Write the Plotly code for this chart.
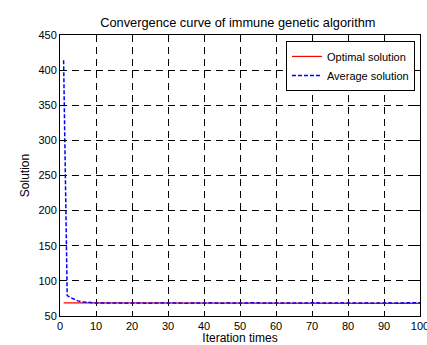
import plotly.graph_objects as go

iterations = list(range(1, 101))
optimal = [68.6, 68.6, 68.5, 68.5, 68.4, 68.3, 68.2, 68.1, 68.0, 68.0,
           67.9, 67.9, 67.9, 67.9, 67.9, 67.9, 67.9, 67.9, 67.9, 67.9,
           67.9, 67.9, 67.9, 67.9, 67.9, 67.9, 67.9, 67.9, 67.9, 67.9,
           67.9, 67.9, 67.9, 67.9, 67.9, 67.9, 67.9, 67.9, 67.9, 67.9,
           67.9, 67.9, 67.9, 67.9, 67.9, 67.9, 67.9, 67.9, 67.9, 67.9,
           67.9, 67.9, 67.9, 67.9, 67.9, 67.9, 67.9, 67.9, 67.9, 67.9,
           67.9, 67.9, 67.9, 67.9, 67.9, 67.9, 67.9, 67.9, 67.9, 67.9,
           67.9, 67.9, 67.9, 67.9, 67.9, 67.9, 67.9, 67.9, 67.9, 67.9,
           67.9, 67.9, 67.9, 67.9, 67.9, 67.9, 67.9, 67.9, 67.9, 67.9,
           67.9, 67.9, 67.9, 67.9, 67.9, 67.9, 67.9, 67.9, 67.9, 67.9]
average = [414.0, 79.0, 76.0, 73.5, 71.5, 70.2, 69.6, 69.1, 68.8, 68.6,
           68.4, 68.6, 68.3, 68.5, 68.2, 68.4, 68.6, 68.3, 68.5, 68.9,
           68.4, 68.3, 68.6, 68.2, 68.5, 68.7, 68.3, 68.4, 68.8, 68.5,
           68.3, 68.6, 68.4, 68.7, 68.3, 68.5, 68.9, 68.4, 68.6, 68.3,
           68.5, 68.8, 68.4, 68.6, 68.3, 68.7, 68.5, 68.4, 68.8, 68.6,
           68.3, 68.5, 68.9, 68.6, 69.0, 68.8, 68.4, 68.6, 68.3, 68.5,
           68.7, 68.4, 68.6, 68.9, 68.5, 68.3, 68.6, 68.8, 68.4, 68.5,
           68.9, 68.6, 68.4, 68.7, 68.5, 68.3, 68.6, 68.8, 68.4, 68.5,
           68.3, 68.6, 68.8, 68.4, 68.5, 68.7, 68.3, 68.6, 68.4, 68.5,
           68.8, 68.4, 68.6, 68.3, 68.5, 68.7, 68.4, 68.6, 69.0, 68.8]

x_ticks = [0, 10, 20, 30, 40, 50, 60, 70, 80, 90, 100]
y_ticks = [50, 100, 150, 200, 250, 300, 350, 400, 450]

fig = go.Figure()
fig.add_trace(go.Scatter(x=iterations, y=optimal, mode="lines", name="Optimal solution",
                         line=dict(color="#ff0000", width=1.2)))
fig.add_trace(go.Scatter(x=iterations, y=average, mode="lines", name="Average solution",
                         line=dict(color="#0000ff", width=1.5, dash="4px,2px")))

font = "Liberation Sans, Arial, sans-serif"
axis_common = dict(showline=True, linecolor="black", linewidth=1, mirror="ticks",
                   ticks="inside", ticklen=5, tickcolor="black", automargin=False,
                   ticklabeloverflow="allow",
                   showgrid=True, gridcolor="black", gridwidth=1, griddash="7px,5px",
                   zeroline=False, tickfont=dict(family=font, size=11, color="black"))

fig.update_layout(
    width=427, height=345,
    margin=dict(l=60, r=7, t=35, b=29, autoexpand=False),
    paper_bgcolor="white", plot_bgcolor="white",
    title=dict(text="Convergence curve of immune genetic algorithm", x=0.557, xanchor="center",
               y=0.936, yanchor="middle", font=dict(family=font, size=12.8, color="black")),
    xaxis=dict(range=[0, 100], tickvals=x_ticks, ticktext=[str(v) for v in x_ticks],
               title=dict(text="Iteration times", font=dict(family=font, size=12, color="black"),
                          standoff=0), **axis_common),
    yaxis=dict(range=[50, 450], tickvals=y_ticks, ticktext=[str(v) for v in y_ticks],
               title=dict(text="Solution", font=dict(family=font, size=12, color="black"),
                          standoff=6), **axis_common),
    legend=dict(x=0.986, y=0.979, xanchor="right", yanchor="top", bgcolor="white",
                bordercolor="black", borderwidth=1,
                font=dict(family=font, size=11, color="black"),
                tracegroupgap=0, itemwidth=30),
    showlegend=True,
)

fig.write_html("out.html", config={"displayModeBar": False},
               post_script="document.body.style.margin='0';")
